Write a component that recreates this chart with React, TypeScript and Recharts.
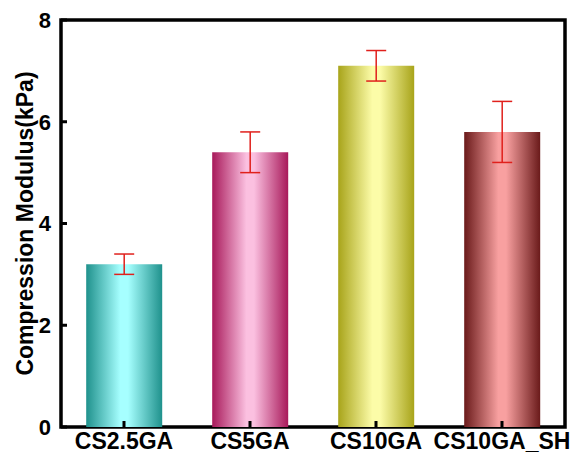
import { BarChart, Bar, XAxis, YAxis, Cell, ErrorBar, ReferenceArea } from 'recharts';

const samples = ['CS2.5GA', 'CS5GA', 'CS10GA', 'CS10GA_SH'];
const modulus = [3.2, 5.4, 7.1, 5.8];
const modulusErr = [0.2, 0.4, 0.3, 0.6];
const yTicks = [0, 2, 4, 6, 8];

// edge colour / highlight colour of each bar's shading
const edgeColors = ['#1f918c', '#a8195a', '#a8a41a', '#6a1a1a'];
const lightColors = ['#a6ffff', '#fbc0e0', '#fcfca8', '#f8a0a0'];

const data = samples.map((name, i) => ({ name, value: modulus[i], err: modulusErr[i] }));

const font = 'Arial, "Liberation Sans", sans-serif';

function YLabel(props: any) {
  const vb = props.viewBox;
  const cy = vb.y + vb.height / 2;
  return (
    <text
      x={25}
      y={cy}
      transform={`rotate(-90, 25, ${cy})`}
      textAnchor="middle"
      dominantBaseline="central"
      fontFamily={font}
      fontWeight="bold"
      fontSize={23}
      fill="#000"
    >
      Compression Modulus(kPa)
    </text>
  );
}

export default function App() {
  return (
    <div style={{ position: 'absolute', left: 0, top: 0, background: '#fff' }}>
      <BarChart
        width={571}
        height={458}
        data={data}
        margin={{ top: 20, right: 6, bottom: 0, left: 0 }}
        barCategoryGap="20%"
      >
        <defs>
          {samples.map((s, i) => (
            <linearGradient key={s} id={`grad${i}`} x1="0" y1="0" x2="1" y2="0">
              <stop offset="0%" stopColor={edgeColors[i]} />
              <stop offset="45%" stopColor={lightColors[i]} />
              <stop offset="55%" stopColor={lightColors[i]} />
              <stop offset="100%" stopColor={edgeColors[i]} />
            </linearGradient>
          ))}
        </defs>
        <XAxis
          dataKey="name"
          height={31}
          tickSize={-6}
          tickMargin={12}
          axisLine={false}
          tickLine={{ stroke: '#000', strokeWidth: 3 }}
          tick={{ fill: '#000', fontSize: 23, fontWeight: 'bold', fontFamily: font }}
          interval={0}
        />
        <YAxis
          width={61}
          domain={[0, 8]}
          ticks={yTicks}
          tickSize={-6}
          tickMargin={16}
          axisLine={false}
          tickLine={{ stroke: '#000', strokeWidth: 3 }}
          tick={{ fill: '#000', fontSize: 22, fontWeight: 'bold', fontFamily: font }}
          label={<YLabel />}
        />
        <Bar dataKey="value" isAnimationActive={false}>
          {data.map((d, i) => (
            <Cell key={d.name} fill={`url(#grad${i})`} />
          ))}
          <ErrorBar dataKey="err" width={10} stroke="#e0201c" strokeWidth={1.5} />
        </Bar>
        <ReferenceArea
          y1={0}
          y2={8}
          fill="none"
          fillOpacity={0}
          stroke="#000"
          strokeWidth={3.5}
          ifOverflow="visible"
        />
      </BarChart>
    </div>
  );
}
